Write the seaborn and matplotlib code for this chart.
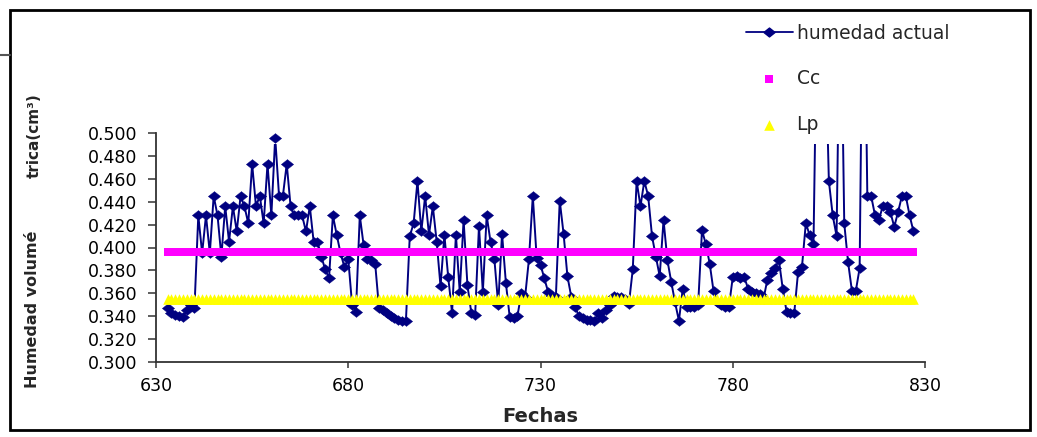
import numpy as np
import pandas as pd
import matplotlib
matplotlib.use("Agg")
import matplotlib.pyplot as plt
import seaborn as sns
from matplotlib.lines import Line2D
from matplotlib.patches import Rectangle, Polygon
from matplotlib.ticker import FormatStrFormatter

# ---------------- data ----------------
dias = list(range(633, 828))
humedad_actual = [
    0.347, 0.343, 0.341, 0.340, 0.339, 0.345, 0.350, 0.347, 0.428, 0.395,  # 633-642
    0.428, 0.395, 0.445, 0.428, 0.392, 0.436, 0.405, 0.436, 0.414, 0.445,  # 643-652
    0.436, 0.421, 0.473, 0.436, 0.445, 0.421, 0.473, 0.428, 0.496, 0.445,  # 653-662
    0.445, 0.473, 0.436, 0.428, 0.428, 0.428, 0.414, 0.436, 0.405, 0.405,  # 663-672
    0.392, 0.381, 0.373, 0.428, 0.411, 0.395, 0.383, 0.390, 0.350, 0.344,  # 673-682
    0.428, 0.402, 0.390, 0.389, 0.386, 0.347, 0.345, 0.343, 0.340, 0.338,  # 683-692
    0.337, 0.336, 0.336, 0.410, 0.421, 0.458, 0.414, 0.445, 0.411, 0.436,  # 693-702
    0.405, 0.366, 0.411, 0.374, 0.343, 0.411, 0.361, 0.424, 0.367, 0.343,  # 703-712
    0.341, 0.419, 0.361, 0.428, 0.405, 0.390, 0.350, 0.412, 0.369, 0.339,  # 713-722
    0.338, 0.340, 0.360, 0.357, 0.390, 0.445, 0.391, 0.385, 0.373, 0.361,  # 723-732
    0.358, 0.357, 0.441, 0.412, 0.375, 0.357, 0.348, 0.340, 0.338, 0.337,  # 733-742
    0.337, 0.336, 0.343, 0.338, 0.345, 0.350, 0.358, 0.357, 0.357, 0.355,  # 743-752
    0.351, 0.381, 0.458, 0.436, 0.458, 0.445, 0.410, 0.392, 0.375, 0.424,  # 753-762
    0.389, 0.370, 0.352, 0.336, 0.364, 0.348, 0.348, 0.348, 0.350, 0.415,  # 763-772
    0.403, 0.386, 0.362, 0.352, 0.350, 0.348, 0.348, 0.374, 0.375, 0.373,  # 773-782
    0.374, 0.364, 0.361, 0.360, 0.359, 0.355, 0.372, 0.378, 0.382, 0.389,  # 783-792
    0.364, 0.344, 0.343, 0.343, 0.379, 0.383, 0.421, 0.411, 0.403, 0.630,  # 793-802
    0.700, 0.590, 0.458, 0.428, 0.410, 0.650, 0.421, 0.387, 0.362, 0.362,  # 803-812
    0.382, 0.700, 0.445, 0.445, 0.428, 0.424, 0.436, 0.436, 0.431, 0.418,  # 813-822
    0.431, 0.445, 0.445, 0.428, 0.414,                                     # 823-827
]
cc_valor = 0.396
lp_valor = 0.355
cc = [cc_valor] * len(dias)
lp = [lp_valor] * len(dias)

x_ticks = [630, 680, 730, 780, 830]
y_ticks = [0.300, 0.320, 0.340, 0.360, 0.380, 0.400, 0.420, 0.440, 0.460, 0.480, 0.500]

series_labels = ["humedad actual", "Cc", "Lp"]
x_label = "Fechas"
y_label_main = "Humedad volumé"
y_label_b = "trica(cm³)"

# ---------------- style ----------------
sns.set_style("white")
plt.rcParams['font.family'] = ['DejaVu Sans']

NAVY = '#000080'
MAGENTA = '#FF00FF'
YELLOW = '#FFFF00'
diamond = [(-1, 0), (0, 0.8), (1, 0), (0, -0.8), (-1, 0)]

W, H = 1037, 437
fig = plt.figure(figsize=(W / 100, H / 100), dpi=100)
ax = fig.add_axes([156 / W, 75 / H, 769 / W, 229 / H])

df = pd.DataFrame({'dia': dias, 'humedad': humedad_actual, 'cc': cc, 'lp': lp})

# blue line (clipped slightly below top like the original)
sns.lineplot(data=df, x='dia', y='humedad', color=NAVY, lw=1.4, ax=ax,
             zorder=2, legend=False)
line = ax.lines[-1]
clip_poly = Polygon([(620, 0.28), (840, 0.28), (840, 0.490), (620, 0.490)],
                    closed=True, transform=ax.transData)
line.set_clip_path(clip_poly)

# blue diamond markers
sns.scatterplot(data=df, x='dia', y='humedad', marker=diamond, s=78,
                color=NAVY, edgecolor=NAVY, linewidth=0.3, ax=ax, zorder=2.5,
                legend=False)

# Cc and Lp
sns.scatterplot(data=df, x='dia', y='cc', marker='s', s=34, color=MAGENTA,
                linewidth=0, ax=ax, zorder=3, label=series_labels[1])
sns.scatterplot(data=df, x='dia', y='lp', marker='^', s=58, color=YELLOW,
                linewidth=0, ax=ax, zorder=4, label=series_labels[2])

ax.set_xlim(630, 830)
ax.set_ylim(0.3, 0.5)
ax.set_xticks(x_ticks)
ax.set_yticks(y_ticks)
ax.yaxis.set_major_formatter(FormatStrFormatter('%.3f'))
ax.set_ylabel('')

sns.despine(ax=ax)
for s in ['left', 'bottom']:
    ax.spines[s].set_color('#333333')
    ax.spines[s].set_linewidth(1.3)

ax.tick_params(axis='y', direction='out', length=5.8, width=1.1, color='#333333',
               pad=7.5, labelsize=12.5, left=True, labelcolor='black')
ax.tick_params(axis='x', direction='out', length=4.5, width=1.1, color='#333333',
               pad=6, labelsize=12.5, bottom=True, labelcolor='black')

ax.set_xlabel(x_label, fontsize=14, fontweight='bold')
ax.xaxis.set_label_coords(0.5, -(417 - 362) / 229)
ax.xaxis.label.set_va('center')

# y label pieces
fig.text(33 / W, 1 - 309 / H, y_label_main, rotation=90, ha='center', va='center',
         fontsize=11.5, fontweight='bold')
fig.text(34 / W, 1 - 178 / H, y_label_b, rotation=90, ha='center', va='bottom',
         fontsize=11, fontweight='bold')

# legend
handles, labels = ax.get_legend_handles_labels()
h_hum = Line2D([0], [0], color=NAVY, lw=1.3, marker=diamond, markersize=8,
               markeredgecolor=NAVY, markerfacecolor=NAVY)
hmap = dict(zip(labels, handles))
ax.legend([h_hum, hmap['Cc'], hmap['Lp']], series_labels,
          loc='upper left', bbox_to_anchor=(746 / W, 1 - 24 / H),
          bbox_transform=fig.transFigure, frameon=False, borderpad=0,
          borderaxespad=0, handlelength=2.5, handletextpad=0.2,
          labelspacing=1.4, fontsize=13.5, numpoints=1, scatterpoints=1)

# outer chart border
fig.add_artist(Rectangle((10 / W, 7 / H), 1020 / W, 420 / H, transform=fig.transFigure,
                         fill=False, lw=2, ec='black'))
fig.add_artist(Line2D([0, 10 / W], [1 - 55 / H, 1 - 55 / H], transform=fig.transFigure,
                      color='#555555', lw=1.5))

fig.savefig('out.png', dpi=100)
